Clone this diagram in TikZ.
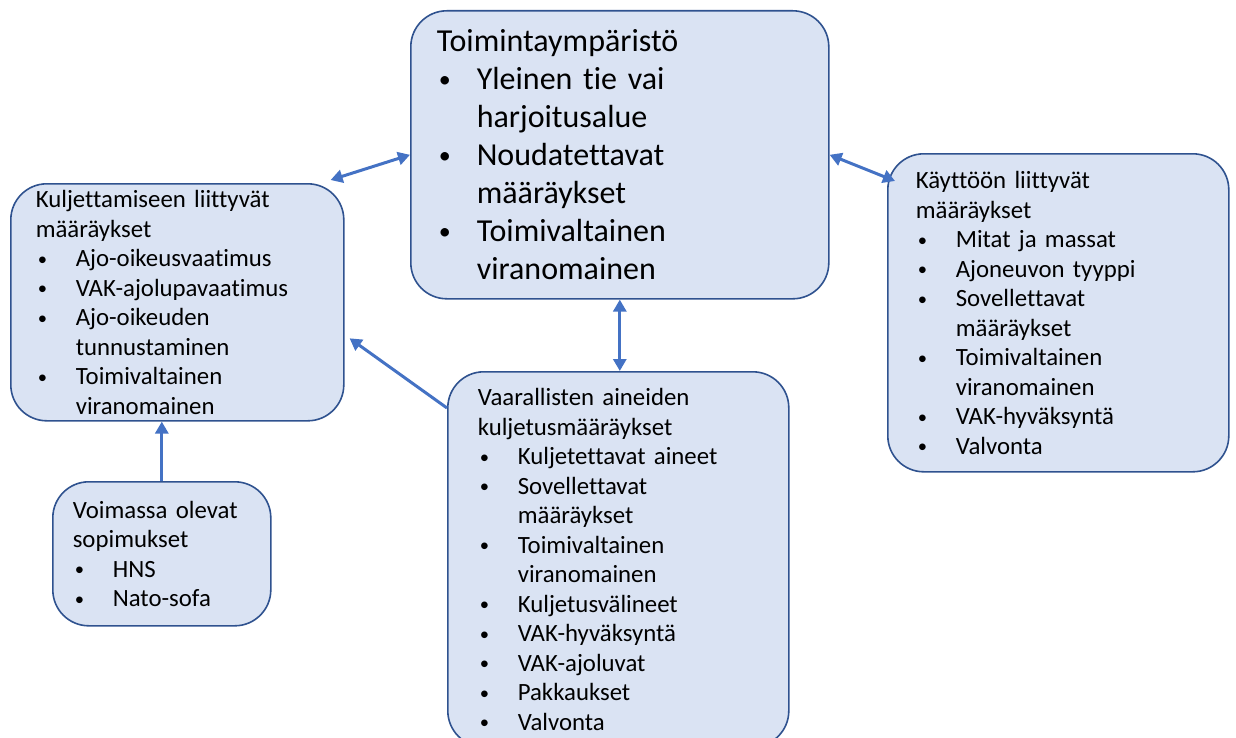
\documentclass[tikz,border=0pt]{standalone}
\usepackage{fontspec}
\usepackage{graphicx}
\setmainfont{Carlito}[Ligatures=NoCommon,WordSpace=0.9]
\usetikzlibrary{arrows.meta,positioning}
\definecolor{boxFill}{HTML}{DAE3F3}
\definecolor{boxLine}{HTML}{2F528F}
\definecolor{arrColor}{HTML}{4472C4}
\newcommand{\blt}[1]{\makebox[20pt][l]{\hspace{1pt}\raisebox{0.06em}{\scalebox{0.75}{\textbullet}}}#1}
\newcommand{\bltc}[1]{\hspace*{20pt}#1}
\begin{document}
\begin{tikzpicture}[x=0.5pt,y=-0.5pt,
 topic/.style={draw=boxLine,fill=boxFill,line width=0.8pt,rounded corners=18pt,anchor=north west,align=left,inner ysep=0pt,font=\fontsize{12.4}{14.75}\selectfont},
 bigtopic/.style={topic,font=\fontsize{16}{19}\selectfont},
 link/.style={arrColor,line width=1.5pt,-{Triangle[length=6pt,width=6.5pt]}},
 both/.style={link,{Triangle[length=6pt,width=6.5pt]}-{Triangle[length=6pt,width=6.5pt]}}]
\useasboundingbox (0,0) rectangle (1236,738);
\node[bigtopic,inner xsep=13pt,text width=183pt,minimum width=209pt,minimum height=144pt] (env) at (410,10) {Toimintaympäristö\\\blt{Yleinen tie vai}\\\bltc{harjoitusalue}\\\blt{Noudatettavat}\\\bltc{määräykset}\\\blt{Toimivaltainen}\\\bltc{viranomainen}};
\node[topic,inner xsep=12.5pt,text width=141.5pt,minimum width=166.5pt,minimum height=118.5pt] (drive) at (10,183) {Kuljettamiseen liittyvät\\määräykset\\\blt{Ajo-oikeusvaatimus}\\\blt{VAK-ajolupavaatimus}\\\blt{Ajo-oikeuden}\\\bltc{tunnustaminen}\\\blt{Toimivaltainen}\\\bltc{viranomainen}};
\node[topic,inner xsep=14pt,text width=142.5pt,minimum width=170.5pt,minimum height=159pt] (use) at (887,153) {Käyttöön liittyvät\\määräykset\\\blt{Mitat ja massat}\\\blt{Ajoneuvon tyyppi}\\\blt{Sovellettavat}\\\bltc{määräykset}\\\blt{Toimivaltainen}\\\bltc{viranomainen}\\\blt{VAK-hyväksyntä}\\\blt{Valvonta}};
\node[topic,inner xsep=15pt,text width=140.5pt,minimum width=170.5pt,minimum height=187.5pt] (dgr) at (447,371) {Vaarallisten aineiden\\kuljetusmääräykset\\\blt{Kuljetettavat aineet}\\\blt{Sovellettavat}\\\bltc{määräykset}\\\blt{Toimivaltainen}\\\bltc{viranomainen}\\\blt{Kuljetusvälineet}\\\blt{VAK-hyväksyntä}\\\blt{VAK-ajoluvat}\\\blt{Pakkaukset}\\\blt{Valvonta}};
\node[topic,inner xsep=10pt,text width=89pt,minimum width=109pt,minimum height=72pt] (sofa) at (52,481) {Voimassa olevat\\sopimukset\\\blt{HNS}\\\blt{Nato-sofa}};
\draw[both] ([xshift=-7pt,yshift=1.5pt]drive.north east) -- (env.west);
\draw[both] (env.east) -- ([xshift=4pt,yshift=-14pt]use.north west);
\draw[both] (env.south) -- (env.south |- dgr.north);
\draw[link] ([yshift=-18.5pt]dgr.north west) -- ([xshift=2.5pt,yshift=-18pt]drive.east);
\draw[link] (sofa.north) -- (sofa.north |- drive.south);
\end{tikzpicture}
\end{document}
